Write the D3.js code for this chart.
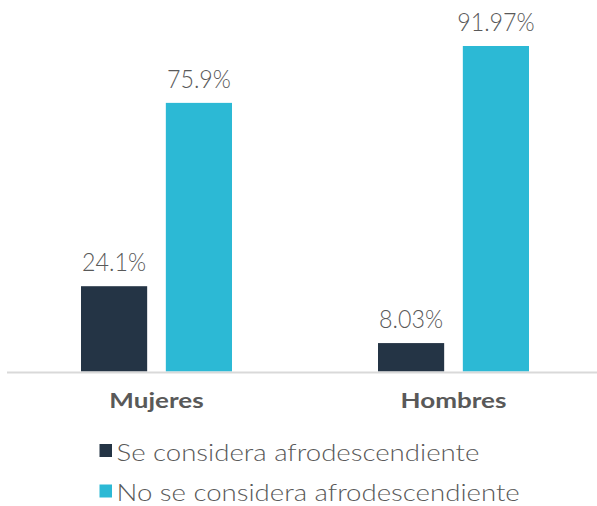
<!DOCTYPE html>
<html lang="es">
<head>
<meta charset="UTF-8">
<title>Afrodescendientes por sexo</title>
<script src="https://d3js.org/d3.v7.min.js"></script>
<style>
  body { margin: 0; background: #fff; }
  text { font-family: Lato, "Open Sans", sans-serif; fill: #595959; }
</style>
</head>
<body>
<div id="chart"></div>
<script>
const categorias = ["Mujeres", "Hombres"];
const series = ["Se considera afrodescendiente", "No se considera afrodescendiente"];
const valSe = [24.1, 8.03];
const valNo = [75.9, 91.97];
const etiquetas = [["24.1%", "8.03%"], ["75.9%", "91.97%"]];
const colores = ["#243445", "#2cb9d5"];

const width = 597, height = 506;
const baseY = 371.5, topY = 46;

// estira el texto para imitar una fuente mas ancha
function estirar(sel, k) {
    sel.each(function() {
        const w = this.getComputedTextLength();
        d3.select(this).attr("textLength", w * k).attr("lengthAdjust", "spacingAndGlyphs");
    });
}

const svg = d3.select("#chart").append("svg")
    .attr("width", width).attr("height", height);

const x0 = d3.scaleBand().domain(categorias).range([8, 602]).paddingInner(0).paddingOuter(0);
const x1 = d3.scaleBand().domain(series).range([73, 224]).paddingInner(0.22).paddingOuter(0);
const y = d3.scaleLinear().domain([0, 91.97]).range([baseY, topY]);

const data = categorias.map((c, i) => ({
    cat: c,
    vals: [
        {s: series[0], v: valSe[i], lab: etiquetas[0][i], col: colores[0]},
        {s: series[1], v: valNo[i], lab: etiquetas[1][i], col: colores[1]}
    ]
}));

const g = svg.selectAll("g.cat").data(data).enter().append("g")
    .attr("class", "cat")
    .attr("transform", d => `translate(${x0(d.cat) + x0.bandwidth() / 2 - 148.5},0)`);

g.selectAll("rect").data(d => d.vals).enter().append("rect")
    .attr("x", d => x1(d.s))
    .attr("width", x1.bandwidth())
    .attr("y", d => y(d.v))
    .attr("height", d => baseY - y(d.v))
    .attr("fill", d => d.col);

g.selectAll("text.val").data(d => d.vals).enter().append("text")
    .attr("class", "val")
    .attr("x", d => x1(d.s) + x1.bandwidth() / 2)
    .attr("y", d => y(d.v) - 15)
    .attr("text-anchor", "middle")
    .style("font-size", "25px")
    .style("font-weight", 300)
    .text(d => d.lab)
    .call(estirar, 0.93);

// eje
svg.append("line")
    .attr("x1", 7).attr("x2", width)
    .attr("y1", baseY + 1).attr("y2", baseY + 1)
    .attr("stroke", "#d9d9d9").attr("stroke-width", 2);

svg.append("g").selectAll("text").data(categorias).enter().append("text")
    .attr("x", d => x0(d) + x0.bandwidth() / 2)
    .attr("y", 408)
    .attr("text-anchor", "middle")
    .style("font-size", "21px")
    .style("font-weight", 700)
    .text(d => d)
    .call(estirar, 1.24);

// leyenda
const ley = svg.append("g").selectAll("g").data(series).enter().append("g")
    .attr("transform", (d, i) => `translate(99.5,${444 + i * 40.5})`);
ley.append("rect").attr("width", 12.5).attr("height", 13)
    .attr("fill", (d, i) => colores[i]);
ley.append("text").attr("x", 17).attr("y", 16.5)
    .style("font-size", "24px")
    .style("font-weight", 300)
    .text(d => d)
    .call(estirar, 1.15);
</script>
</body>
</html>
